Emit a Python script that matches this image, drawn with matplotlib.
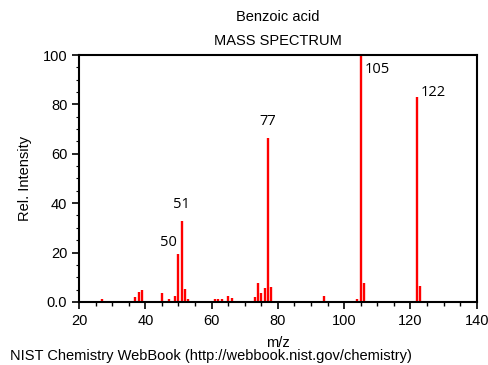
import numpy as np
import matplotlib.pyplot as plt
from matplotlib.ticker import MultipleLocator

plt.rcParams['font.family'] = ['Liberation Sans', 'DejaVu Sans']

# m/z and relative intensity
mz = [27, 29, 37, 38, 39, 40, 45, 47, 49, 50, 51, 52, 53,
      61, 62, 63, 65, 66, 73, 74, 75, 76, 77, 78, 94,
      104, 105, 106, 121, 122, 123, 124]
intensity = [1.0, 0.4, 1.9, 3.8, 4.9, 0.5, 3.4, 1.0, 2.3, 19.3, 32.9, 5.4, 1.0,
             1.0, 1.0, 1.0, 2.2, 1.6, 1.9, 7.7, 3.5, 5.7, 66.5, 6.0, 2.4,
             1.0, 100.0, 7.5, 0.5, 83.0, 6.5, 0.4]

# labelled peaks
peak_mz = [50, 51, 77, 105, 122]
peak_txt = ["50", "51", "77", "105", "122"]

yticks = [0, 20, 40, 60, 80, 100]
ytick_labels = ["0.0", "20", "40", "60", "80", "100"]

fig = plt.figure(figsize=(4.88, 3.65), dpi=100)
ax = fig.add_axes([0.162, 0.173, 0.815, 0.676])

ax.vlines(mz, 0, intensity, colors="#ff0000", lw=1.7)

lbl_font = dict(family=["Open Sans", "DejaVu Sans"], fontsize=10.5, color="black")
inten = dict(zip(mz, intensity))
for m, s in zip(peak_mz, peak_txt):
    h = inten[m]
    if m == 50:
        ax.text(m - 0.5, h + 4.7, s, ha="right", va="center", **lbl_font)
    elif m == 105:
        ax.text(m + 1.2, h - 6, s, ha="left", va="center", **lbl_font)
    elif m == 122:
        ax.text(m + 1.2, h + 2, s, ha="left", va="center", **lbl_font)
    else:
        ax.text(m, h + 6.5, s, ha="center", va="center", **lbl_font)

ax.set_xlim(20, 140)
ax.set_ylim(0, 100)
ax.xaxis.set_major_locator(MultipleLocator(20))
ax.xaxis.set_minor_locator(MultipleLocator(5))
ax.set_yticks(yticks)
ax.set_yticklabels(ytick_labels)
ax.yaxis.set_minor_locator(MultipleLocator(5))
ax.tick_params(axis="both", which="major", labelsize=10.5, length=5, width=1.2)
ax.tick_params(axis="x", which="minor", length=3, width=1.0)
ax.tick_params(axis="y", which="minor", length=2.5, width=0.8)

for sp in ax.spines.values():
    sp.set_linewidth(1.5)

ax.set_xlabel("m/z", fontsize=10.5, labelpad=6)
ax.set_ylabel("Rel. Intensity", fontsize=10.5, labelpad=8)

fig.text(0.57, 0.953, "Benzoic acid", ha="center", va="center", fontsize=10.5)
fig.text(0.57, 0.888, "MASS SPECTRUM", ha="center", va="center", fontsize=10.5)
fig.text(0.02, 0.025, "NIST Chemistry WebBook (http://webbook.nist.gov/chemistry)",
         ha="left", va="center", fontsize=10.5)

fig.savefig("out.png", dpi=100)
